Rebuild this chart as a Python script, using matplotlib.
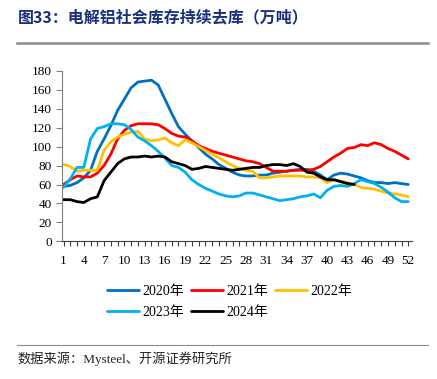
import matplotlib
matplotlib.use("Agg")
import matplotlib.pyplot as plt
from matplotlib.lines import Line2D

plt.rcParams['font.family'] = ['Liberation Serif', 'Noto Sans CJK SC', 'DejaVu Sans']

weeks = list(range(1, 53))
tick_labels = [str(w) if (w - 1) % 3 == 0 else '' for w in weeks]

y2020 = [58, 59, 62, 67, 75, 95, 108, 122, 138, 150, 162, 168, 169, 170, 165, 150, 135, 121, 113, 106,
         99, 92, 87, 81, 77, 73, 70, 69, 69, 70, 70, 72, 73, 74, 75, 76, 76, 74, 70, 65,
         70, 72, 71, 69, 67, 64, 62, 62, 61, 62, 61, 60]
y2021 = [60, 65, 69, 68, 68, 72, 80, 92, 108, 117, 122, 124, 124, 124, 123, 119, 114, 111, 110, 106,
         101, 98, 95, 93, 91, 89, 87, 85, 84, 82, 78, 74, 74, 74, 75, 75, 75, 76, 79, 84,
         89, 93, 98, 99, 102, 101, 104, 102, 98, 95, 91, 87]
y2022 = [81, 79, 74, 75, 75, 75, 96, 105, 110, 113, 115, 116, 108, 106, 107, 109, 104, 101, 107, 104,
         100, 96, 92, 88, 84, 80, 77, 75, 74, 67, 67, 68, 69, 69, 69, 69, 68, 68, 67, 62,
         65, 64, 62, 60, 57, 56, 55, 53, 51, 50, 49, 47]
y2023 = [57, 66, 78, 78, 108, 119, 121, 124, 124, 123, 118, 110, 106, 101, 95, 88, 80, 78, 73, 65,
         60, 56, 53, 50, 48, 47, 48, 51, 51, 49, 47, 45, 43, 44, 45, 47, 48, 50, 46, 54,
         58, 59, 58, 61, 65, 63, 61, 57, 52, 46, 42, 42]
y2024 = [44, 44, 42, 41, 45, 47, 64, 73, 82, 87, 89, 89, 90, 89, 90, 89, 84, 82, 80, 76,
         77, 79, 78, 77, 76, 75, 76, 77, 78, 78, 80, 81, 81, 80, 82, 79, 73, 72, 68, 65,
         65, 63, 61, 60]

series_names = ['2020年', '2021年', '2022年', '2023年', '2024年']
series_vals = [y2020, y2021, y2022, y2023, y2024]
colors = ['#0070C0', '#FF0000', '#FFC000', '#00B0F0', '#000000']

fig = plt.figure(figsize=(4.37, 3.79), dpi=100)
ax = fig.add_axes([0.141, 0.363, 0.801, 0.4505])

lines = []
for name, vals, c in zip(series_names, series_vals, colors):
    ln, = ax.plot(weeks[:len(vals)], vals, color=c, lw=2.0, label=name, solid_capstyle='round')
    lines.append(ln)

ax.set_xlim(0.72, 52.5)
ax.set_ylim(0, 180)
ax.set_yticks(range(0, 181, 20))
ax.set_xticks(weeks)
ax.set_xticklabels(tick_labels)
for s in ['top', 'right']:
    ax.spines[s].set_visible(False)
ax.spines['left'].set_color('#7f7f7f')
ax.spines['bottom'].set_color('#404040')
ax.tick_params(axis='y', direction='out', length=4, color='#7f7f7f', labelsize=9.5, pad=3)
ax.tick_params(axis='x', direction='out', length=3.5, color='#404040', labelsize=9.5, pad=6)

order = [0, 3, 1, 4, 2]
fig.legend([lines[i] for i in order], [series_names[i] for i in order],
           ncol=3, loc='center', bbox_to_anchor=(0.525, 0.203), frameon=False,
           fontsize=10, handlelength=2.3, handletextpad=0.25, columnspacing=0.5,
           labelspacing=0.55)

fig.text(0.04, 0.955, '图33：电解铝社会库存持续去库（万吨）', fontsize=11.5, fontweight='bold',
         color='#1B2F80', ha='left', va='center', family=['Noto Sans CJK SC', 'DejaVu Sans'])
fig.add_artist(Line2D([0.04, 0.98], [0.887, 0.887], color='#8c8c8c', lw=1.8, transform=fig.transFigure))
fig.add_artist(Line2D([0.04, 0.98], [0.09, 0.09], color='#8c8c8c', lw=0.8, transform=fig.transFigure))
fig.text(0.04, 0.053, '数据来源：Mysteel、开源证券研究所', fontsize=9.5, color='#222222',
         ha='left', va='center')

fig.savefig('out.png', dpi=100)
